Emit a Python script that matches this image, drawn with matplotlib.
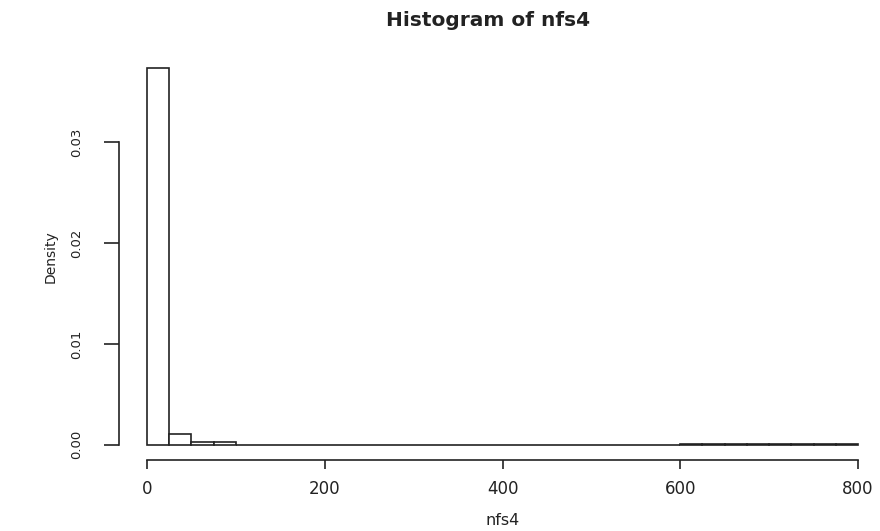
import numpy as np
import matplotlib
matplotlib.use("Agg")
import matplotlib.pyplot as plt

# histogram of nfs4, bins of width 25 from 0 to 800 (density scale)
binEdges = list(range(0, 800, 25))
densities = [0.0373, 0.0011, 0.00027, 0.00027] + [0.00001] * 20 + [0.00008] * 8
xTicks = [0, 200, 400, 600, 800]
yTicks = [0.00, 0.01, 0.02, 0.03]

plt.rcParams['font.family'] = ['DejaVu Sans']
ink = '#222222'

fig = plt.figure(figsize=(8.8, 5.31), dpi=100)
ax = fig.add_axes([0.1348, 0.1337, 0.8725, 0.7665])

ax.bar(binEdges, densities, width=25, align='edge',
       color='white', edgecolor=ink, linewidth=1.2)

ax.set_xlim(-32, 832)
ax.set_ylim(-0.0015, 0.0388)

# R style axes: only the bottom and left lines, spanning the tick range
for side in ['top', 'right']:
    ax.spines[side].set_visible(False)
ax.spines['bottom'].set_bounds(0, 800)
ax.spines['left'].set_bounds(0, 0.03)
for side in ['bottom', 'left']:
    ax.spines[side].set_linewidth(1.2)
    ax.spines[side].set_color(ink)

ax.set_xticks(xTicks)
ax.set_xticklabels([str(t) for t in xTicks])
ax.set_yticks(yTicks)
ax.set_yticklabels(["%.2f" % t for t in yTicks], rotation=90, va='center')
ax.tick_params(axis='x', length=6.5, width=1.2, color=ink,
               labelsize=12, labelcolor=ink, pad=8)
ax.tick_params(axis='y', length=10.5, width=1.2, color=ink,
               labelsize=9.5, labelcolor=ink, pad=15)

ax.set_xlabel("nfs4", fontsize=11.5, color=ink, labelpad=11)
ax.set_ylabel("Density", fontsize=10, color=ink, labelpad=9)
fig.text(0.555, 0.951, "Histogram of nfs4", ha='center', va='baseline',
         fontsize=14.5, fontweight='bold', color=ink)

fig.savefig("out.png", dpi=100)
